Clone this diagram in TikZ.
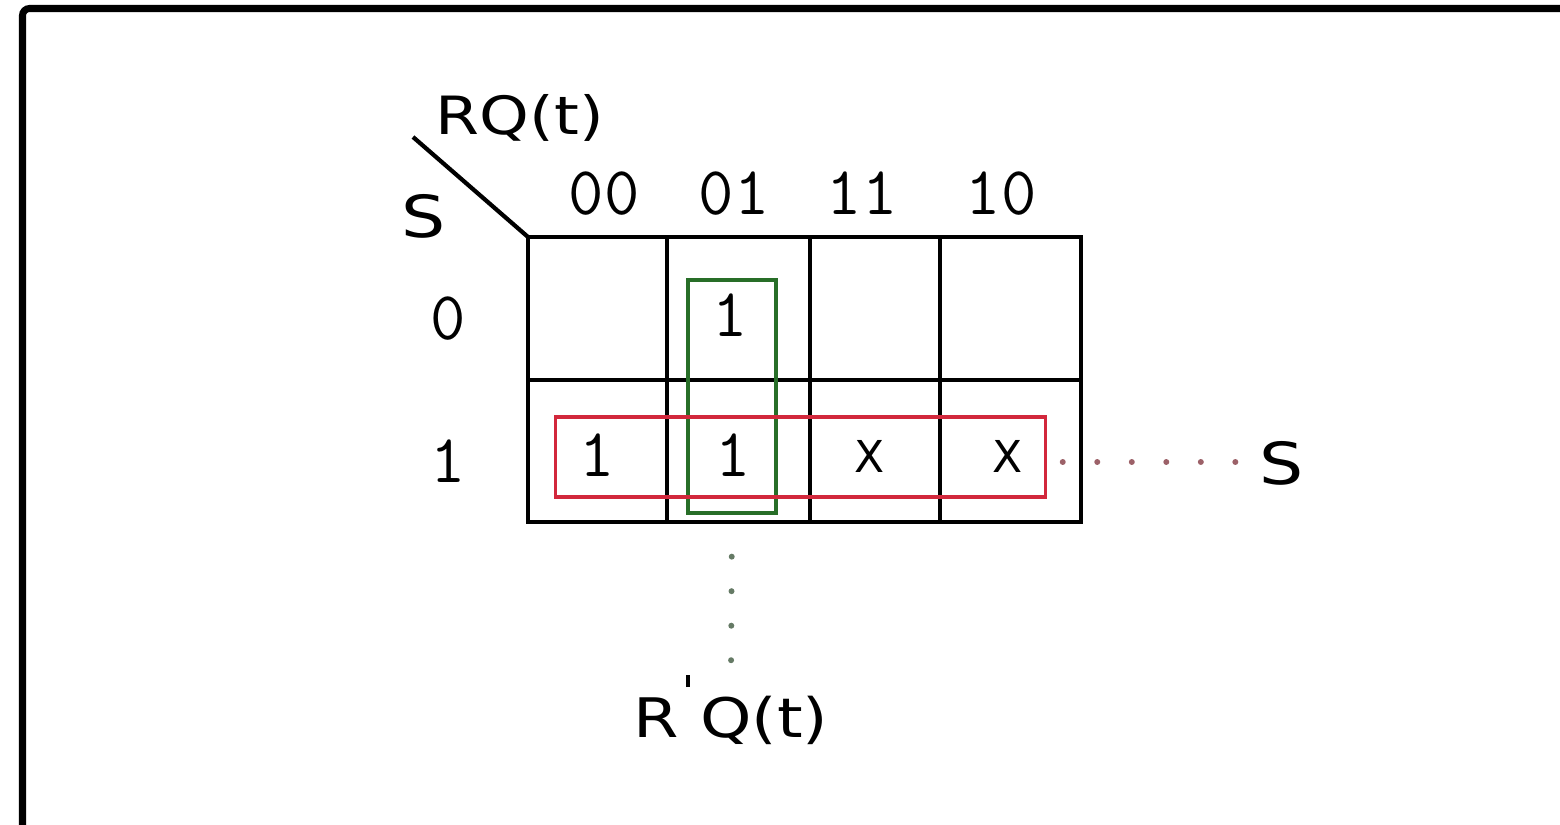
\documentclass[tikz,border=0pt]{standalone}
\usepackage{fontspec}
\setmainfont{DejaVu Sans}[FakeStretch=1.2]
\newfontfamily\xfont{DejaVu Sans}
\usetikzlibrary{positioning}
\definecolor{kred}{RGB}{210,40,60}
\definecolor{kgreen}{RGB}{40,110,40}

\begin{document}
\begin{tikzpicture}[x=0.01cm, y=-0.01cm,
    grid/.style={line width=1.2pt},
    lbl/.style={anchor=base, inner sep=0pt, font=\fontsize{15}{18}\selectfont},
    num/.style={anchor=base, inner sep=0pt, font=\ttfamily\fontsize{19.5}{22}\selectfont},
    xmark/.style={anchor=base, inner sep=0pt, font=\xfont\fontsize{12.5}{14}\selectfont},
    grpgreen/.style={draw=kgreen, line width=0.9pt, inner sep=0pt},
    grpred/.style={draw=kred, line width=0.9pt, inner sep=0pt},
    dots/.style={line width=1.7pt, line cap=round, dash pattern=on 0pt off 0.345cm}]
    \useasboundingbox (0,0) rectangle (1560,825);

    % Frame
    \draw[line width=2pt, rounded corners=2pt] (22.5,835) -- (22.5,8.5) -- (1570,8.5);

    % Map grid
    \draw[grid] (528,237) rectangle (1081,522);
    \draw[grid] (528,380) -- (1081,380);
    \foreach \x in {667,810,940}
      \draw[grid] (\x,237) -- (\x,522);
    \draw[grid] (528,237) -- (413,137);

    % Variables
    \node[lbl] (rq) at (520,135) {RQ(t)};
    \node[lbl, font=\fontsize{16.5}{19}\selectfont] (sin) at (424,238) {S};

    % Gray codes
    \foreach \x/\n in {604/00, 734/01, 862/11, 1001/10}
      \node[num] (h\n) at (\x,215) {\n};
    \node[num] (r0) at (448,340) {0};
    \node[num] (r1) at (448,483) {1};

    % Entries
    \node[num] (v001) at (730,337) {1};
    \foreach \x/\c in {597/00, 733/01}
      \node[num] (v1\c) at (\x,477) {1};
    \foreach \x/\c in {870/11, 1008/10}
      \node[xmark] (v1\c) at (\x,473) {X};

    % Groups
    \node[grpgreen, minimum width=0.88cm, minimum height=2.33cm] (gbox) at (732,396.5) {};
    \node[grpred, minimum width=4.89cm, minimum height=0.8cm] (rbox) at (800.5,457) {};

    % Terms
    \node[lbl, font=\fontsize{16.5}{19}\selectfont] (sout) at (1282,485) {S};
    \node[lbl, font=\fontsize{15.5}{18}\selectfont] (rnq) at (731,738)
      {R\kern2pt\raisebox{14.5pt}{\rule{1pt}{3.5pt}}\kern3pt Q(t)};
    \draw[dots, kred!35!gray, shorten <=0.16cm, shorten >=0.2cm]
      ([yshift=-0.05cm]rbox.east) -- ([yshift=-0.05cm]rbox.east -| sout.west);
    \draw[dots, kgreen!30!gray, shorten <=0.42cm, shorten >=0.08cm] (gbox.south) -- (rnq.north);
\end{tikzpicture}
\end{document}
